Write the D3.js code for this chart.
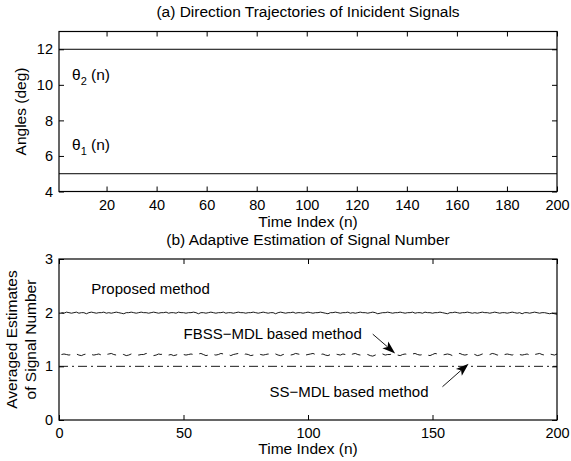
<!DOCTYPE html>
<html>
<head>
<meta charset="utf-8">
<script src="https://cdn.jsdelivr.net/npm/d3@7"></script>
<style>
body { margin: 0; background: #fff; }
text { font-family: "Liberation Sans", Arial, Helvetica, sans-serif; fill: #000; }
</style>
</head>
<body>
<div id="chart"></div>
<script>
// (a) direction trajectories - both are flat, read at the two ends
var trajN = [1, 200];
var theta1 = [5, 5];
var theta2 = [12, 12];

// (b) averaged estimates of signal number, n = 1..200
var proposed = [
	2.00,1.99,2.01,2.00,1.99,2.00,2.01,1.99,2.00,2.00,1.98,2.00,2.01,2.00,1.99,2.00,2.00,2.01,1.99,2.00,
	1.99,2.00,2.01,2.00,1.99,1.98,2.00,2.00,2.01,2.00,1.99,2.00,2.01,2.00,2.00,1.99,2.00,2.01,2.00,1.99,
	2.00,2.00,2.01,1.99,2.00,2.00,1.99,2.01,2.00,2.00,1.99,2.00,2.00,2.01,2.00,1.98,2.00,2.00,1.99,2.00,
	2.01,2.00,1.99,2.00,2.00,2.01,1.99,2.00,2.00,1.99,2.00,2.01,2.00,2.00,1.99,2.00,2.00,2.01,2.00,1.99,
	2.00,2.01,2.00,1.99,2.00,2.00,1.98,2.00,2.01,2.00,1.99,2.00,2.00,2.01,1.99,2.00,2.00,1.99,2.00,2.01,
	2.00,1.99,2.00,2.00,2.01,2.00,1.99,1.98,2.00,2.00,2.01,2.00,1.99,2.00,2.00,2.01,1.99,2.00,1.99,2.00,
	2.01,2.00,2.00,1.99,2.00,2.01,2.00,1.98,1.99,2.00,2.00,2.01,2.00,1.99,2.00,2.00,2.01,2.00,1.99,2.00,
	2.00,2.01,1.99,2.00,2.00,1.99,2.01,2.00,2.00,1.99,2.00,2.00,2.01,2.00,1.99,1.98,2.00,2.00,2.01,2.00,
	1.99,2.00,2.00,2.01,2.00,1.99,2.00,1.99,2.00,2.01,2.00,2.00,1.99,2.00,2.01,2.00,1.99,2.00,2.00,1.99,
	2.00,2.01,2.00,1.99,2.00,1.98,2.00,2.00,1.99,2.00,2.01,2.00,1.99,2.00,2.00,1.99,1.98,1.99,1.98,1.97
];
var fbssMdl = [
	1.22,1.23,1.22,1.21,1.22,1.24,1.23,1.21,1.20,1.22,1.23,1.24,1.22,1.21,1.22,1.23,1.21,1.20,1.22,1.23,
	1.24,1.22,1.21,1.22,1.23,1.22,1.20,1.21,1.23,1.24,1.23,1.21,1.22,1.22,1.24,1.23,1.21,1.20,1.21,1.23,
	1.22,1.24,1.23,1.21,1.22,1.20,1.21,1.23,1.24,1.22,1.21,1.22,1.23,1.22,1.21,1.23,1.24,1.22,1.20,1.21,
	1.23,1.22,1.21,1.22,1.24,1.23,1.21,1.22,1.20,1.22,1.23,1.24,1.22,1.21,1.23,1.22,1.20,1.21,1.23,1.24,
	1.22,1.21,1.22,1.23,1.22,1.24,1.23,1.21,1.20,1.22,1.23,1.22,1.21,1.22,1.24,1.23,1.22,1.20,1.21,1.22,
	1.23,1.24,1.22,1.21,1.22,1.23,1.21,1.20,1.22,1.24,1.23,1.22,1.21,1.23,1.22,1.20,1.21,1.23,1.24,1.22,
	1.21,1.22,1.23,1.22,1.20,1.19,1.21,1.23,1.24,1.23,1.21,1.22,1.22,1.24,1.23,1.21,1.20,1.22,1.23,1.22,
	1.21,1.23,1.24,1.22,1.21,1.22,1.23,1.21,1.20,1.22,1.24,1.23,1.22,1.21,1.22,1.23,1.22,1.20,1.21,1.23,
	1.24,1.22,1.21,1.22,1.23,1.24,1.22,1.20,1.21,1.23,1.22,1.21,1.22,1.24,1.23,1.21,1.22,1.20,1.22,1.23,
	1.22,1.21,1.23,1.24,1.22,1.21,1.22,1.23,1.21,1.20,1.22,1.23,1.24,1.22,1.21,1.22,1.23,1.22,1.21,1.23
];
var ssN = [0, 200];
var ssMdl = [1, 1];

var topXTicks = [20, 40, 60, 80, 100, 120, 140, 160, 180, 200];
var topYTicks = [4, 6, 8, 10, 12];
var botXTicks = [0, 50, 100, 150, 200];
var botYTicks = [0, 1, 2, 3];

// annotations, in data units of panel (b)
var notes = [
	{text: "Proposed method", n: 13, v: 2.35},
	{text: "FBSS\u2212MDL based method", n: 50, v: 1.51},
	{text: "SS\u2212MDL based method", n: 84.5, v: 0.42}
];
var arrows = [
	{n0: 126, v0: 1.60, n1: 135, v1: 1.24},
	{n0: 154, v0: 0.62, n1: 164.5, v1: 1.05}
];

var W = 571, H = 461;
var labelSize = "15.5px";
var svg = d3.select("#chart").append("svg")
	.attr("width", W).attr("height", H);

function frame(g, x, y, xt, yt) {
	var x0 = x.range()[0], x1 = x.range()[1], y0 = y.range()[1], y1 = y.range()[0];
	var fmt = function(d){ return d; };

	g.append("g").attr("transform", "translate(0," + y1 + ")")
		.call(d3.axisBottom(x).tickValues(xt).tickFormat(fmt).tickSizeInner(-5).tickSizeOuter(0).tickPadding(8));
	g.append("g").attr("transform", "translate(0," + y0 + ")")
		.call(d3.axisTop(x).tickValues(xt).tickSizeInner(-5).tickSizeOuter(0).tickFormat(""));
	g.append("g").attr("transform", "translate(" + x0 + ",0)")
		.call(d3.axisLeft(y).tickValues(yt).tickFormat(fmt).tickSizeInner(-5).tickSizeOuter(0).tickPadding(6));
	g.append("g").attr("transform", "translate(" + x1 + ",0)")
		.call(d3.axisRight(y).tickValues(yt).tickSizeInner(-5).tickSizeOuter(0).tickFormat(""));

	g.selectAll(".domain").remove();
	g.selectAll(".tick line").attr("stroke", "#000");
	g.selectAll(".tick text").style("font-size", "14.5px").attr("fill", "#000");

	g.append("rect")
		.attr("x", x0).attr("y", y0)
		.attr("width", x1 - x0).attr("height", y1 - y0)
		.attr("fill", "none").attr("stroke", "#000").attr("stroke-width", 1.2);
}

// ---------- (a) ----------
var xA = d3.scaleLinear().domain([1, 200]).range([59, 557]);
var yA = d3.scaleLinear().domain([4, 13]).range([191.5, 31.5]);
var gA = svg.append("g");

var lineA = d3.line().x(function(d){ return xA(d[0]); }).y(function(d){ return yA(d[1]); });
[theta1, theta2].forEach(function(s) {
	gA.append("path")
		.datum(trajN.map(function(n, i){ return [n, s[i]]; }))
		.attr("d", lineA)
		.attr("fill", "none").attr("stroke", "#000").attr("stroke-width", 1);
});
frame(gA, xA, yA, topXTicks, topYTicks);

[{sub: "2", n: 6.2, v: 10.3}, {sub: "1", n: 6.2, v: 6.35}].forEach(function(t) {
	var tx = gA.append("text")
		.attr("x", xA(t.n)).attr("y", yA(t.v))
		.style("font-size", labelSize);
	tx.append("tspan").text("\u03b8");
	tx.append("tspan").attr("dy", 5).style("font-size", "11px").text(t.sub);
	tx.append("tspan").attr("dy", -5).text(" (n)");
});

svg.append("text").attr("x", 308).attr("y", 17).attr("text-anchor", "middle")
	.style("font-size", labelSize).text("(a) Direction Trajectories of Inicident Signals");
svg.append("text").attr("x", 308).attr("y", 227).attr("text-anchor", "middle")
	.style("font-size", labelSize).text("Time Index (n)");
svg.append("text").attr("transform", "translate(26,111.5) rotate(-90)").attr("text-anchor", "middle")
	.style("font-size", labelSize).text("Angles (deg)");

// ---------- (b) ----------
var xB = d3.scaleLinear().domain([0, 200]).range([59, 557]);
var yB = d3.scaleLinear().domain([0, 3]).range([420, 259]);
var gB = svg.append("g");

var lineB = d3.line().x(function(d){ return xB(d[0]); }).y(function(d){ return yB(d[1]); });

gB.append("path")
	.datum(proposed.map(function(v, i){ return [i + 1, v]; }))
	.attr("d", lineB)
	.attr("fill", "none").attr("stroke", "#000").attr("stroke-width", 0.9);

gB.append("path")
	.datum(fbssMdl.map(function(v, i){ return [i + 1, v]; }))
	.attr("d", lineB)
	.attr("fill", "none").attr("stroke", "#000").attr("stroke-width", 0.9)
	.attr("stroke-dasharray", "9,7");

gB.append("path")
	.datum(ssN.map(function(n, i){ return [n, ssMdl[i]]; }))
	.attr("d", lineB)
	.attr("fill", "none").attr("stroke", "#000").attr("stroke-width", 0.9)
	.attr("stroke-dasharray", "9,4,2,4");

frame(gB, xB, yB, botXTicks, botYTicks);

gB.selectAll("text.note")
	.data(notes).enter().append("text")
	.attr("class", "note")
	.attr("x", function(d){ return xB(d.n); })
	.attr("y", function(d){ return yB(d.v); })
	.style("font-size", "15px")
	.text(function(d){ return d.text; });

// arrows with a notched head, like matlab's annotation arrow
arrows.forEach(function(a) {
	var x0 = xB(a.n0), y0 = yB(a.v0), x1 = xB(a.n1), y1 = yB(a.v1);
	var ang = Math.atan2(y1 - y0, x1 - x0);
	var len = 13, wid = 4.5, back = 10;
	var ux = Math.cos(ang), uy = Math.sin(ang);
	var bx = x1 - ux * len, by = y1 - uy * len;
	var nx = x1 - ux * back, ny = y1 - uy * back;
	gB.append("line")
		.attr("x1", x0).attr("y1", y0).attr("x2", nx).attr("y2", ny)
		.attr("stroke", "#000").attr("stroke-width", 0.9);
	gB.append("path")
		.attr("d", "M" + x1 + "," + y1 +
			"L" + (bx - uy * wid) + "," + (by + ux * wid) +
			"L" + nx + "," + ny +
			"L" + (bx + uy * wid) + "," + (by - ux * wid) + "Z")
		.attr("fill", "#000");
});

svg.append("text").attr("x", 308).attr("y", 245).attr("text-anchor", "middle")
	.style("font-size", labelSize).text("(b) Adaptive Estimation of Signal Number");
svg.append("text").attr("x", 308).attr("y", 454).attr("text-anchor", "middle")
	.style("font-size", labelSize).text("Time Index (n)");
svg.append("text").attr("transform", "translate(17,339.5) rotate(-90)").attr("text-anchor", "middle")
	.style("font-size", labelSize).text("Averaged Estimates");
svg.append("text").attr("transform", "translate(35.5,339.5) rotate(-90)").attr("text-anchor", "middle")
	.style("font-size", labelSize).text("of Signal Number");
</script>
</body>
</html>
